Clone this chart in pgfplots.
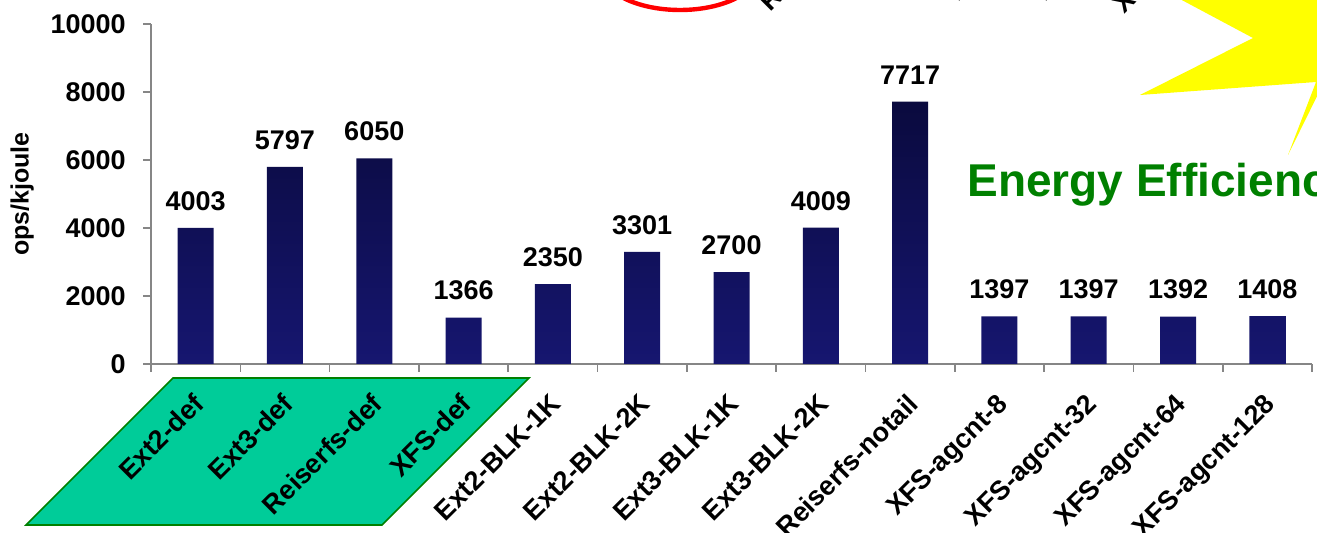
\documentclass[border=0pt]{standalone}
\usepackage{pgfplots}
\pgfplotsset{compat=1.18}
\usepackage{fontspec}
\setmainfont{Liberation Sans}
\definecolor{barTop}{RGB}{10,10,62}
\definecolor{barBot}{RGB}{22,22,112}
\definecolor{parafill}{RGB}{0,204,153}
\definecolor{paraedge}{RGB}{0,128,0}
\definecolor{effgreen}{RGB}{0,128,0}
\definecolor{axgray}{RGB}{134,134,134}
\definecolor{staryellow}{RGB}{255,255,0}
\newcommand{\lblfont}{\fontsize{13.5}{15}\selectfont\bfseries}
\begin{document}
\begin{tikzpicture}
\useasboundingbox (0pt,0pt) rectangle (658.5pt,-266.5pt);
\clip (0pt,0pt) rectangle (658.5pt,-266.5pt);
\begin{scope}[x=0.5pt,y=-0.5pt]
% star
\fill[staryellow] (1163,-10) -- (1253,38) -- (1140,95) -- (1316,82) -- (1288,155) -- (1330,70) -- (1330,-10) -- cycle;
% red ellipse
\draw[red, line width=2.2pt] (680,-31) ellipse [x radius=40pt, y radius=20.5pt];
% top rotated labels (cut off)
\node[rotate=45, anchor=base west, inner sep=0pt, font=\lblfont] at (770,13) {Reiserfs-notail};
\node[rotate=45, anchor=base west, inner sep=0pt, font=\lblfont] at (958,3) {Ext2-BLK-1K};
\node[rotate=45, anchor=base west, inner sep=0pt, font=\lblfont] at (1045,3) {Ext3-BLK-1K};
\node[rotate=45, anchor=base west, inner sep=0pt, font=\lblfont] at (1124,15) {XFS-agcnt-8};
% parallelogram
\filldraw[fill=parafill, draw=paraedge, line width=0.8pt] (173,378) -- (529,378) -- (382,525) -- (26,525) -- cycle;
\end{scope}
\begin{axis}[
  at={(75.5pt,-182pt)}, anchor=south west,
  width=580.5pt, height=170pt, scale only axis,
  xmin=-0.5, xmax=12.5, ymin=0, ymax=10000,
  axis x line=bottom, axis y line=left,
  axis line style={-, draw=axgray, line width=0.8pt},
  tick align=outside, major tick length=4pt,
  tick style={draw=axgray, line width=0.8pt},
  xtick={-0.5,0.5,...,12.5}, xticklabels={},
  extra x ticks={0,1,2,3,4,5,6,7,8,9,10,11,12},
  extra x tick labels={Ext2-def,Ext3-def,Reiserfs-def,XFS-def,Ext2-BLK-1K,Ext2-BLK-2K,Ext3-BLK-1K,Ext3-BLK-2K,Reiserfs-notail,XFS-agcnt-8,XFS-agcnt-32,XFS-agcnt-64,XFS-agcnt-128},
  extra x tick style={major tick length=0pt, tick label style={rotate=45, anchor=north east, inner sep=0pt, xshift=-11.2pt, yshift=-8.3pt, font=\lblfont}},
  ytick={0,2000,4000,6000,8000,10000},
  scaled y ticks=false,
  /pgf/number format/1000 sep={},
  /pgf/number format/assume math mode=true,
  yticklabel style={font=\lblfont, inner sep=0pt, xshift=-8.5pt},
  ylabel={ops/kjoule},
  every axis y label/.style={at={(axis description cs:-0.111,0.5)}, rotate=90, anchor=center, font=\fontsize{12.5}{14}\selectfont\bfseries},
  clip=false,
]
\addplot[ybar, bar width=18pt, draw=none, top color=barTop, bottom color=barBot] coordinates {
(0,4003) (1,5797) (2,6050) (3,1366) (4,2350) (5,3301) (6,2700) (7,4009) (8,7717) (9,1397) (10,1397) (11,1392) (12,1408)};
\addplot[draw=none, mark=none, nodes near coords, every node near coord/.append style={anchor=south, inner sep=0pt, yshift=8.5pt, text=black, font=\lblfont}] coordinates {
(0,4003) (1,5797) (2,6050) (3,1366) (4,2350) (5,3301) (6,2700) (7,4009) (8,7717) (9,1397) (10,1397) (11,1392) (12,1408)};
\end{axis}
\node[anchor=base west, inner sep=0pt, text=effgreen, font=\fontsize{23}{26}\selectfont\bfseries] at (483.5pt,-98.5pt) {Energy Efficiency};
\end{tikzpicture}
\end{document}
